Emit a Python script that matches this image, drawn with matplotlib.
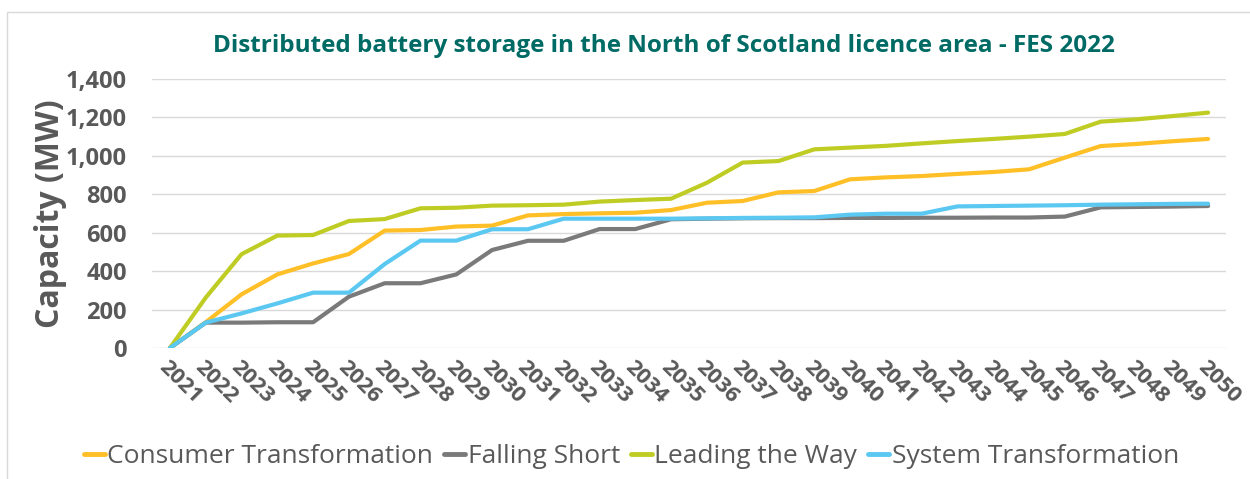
import matplotlib.pyplot as plt
from matplotlib.patches import Rectangle

years = [str(y) for y in range(2021, 2051)]

consumer_transformation = [0, 134, 279, 383, 440, 489, 611, 614, 632, 637,
                           690, 697, 701, 704, 718, 756, 765, 810, 817, 878,
                           888, 895, 906, 916, 930, 991, 1051, 1062, 1076, 1088]
falling_short = [0, 132, 132, 134, 134, 267, 337, 337, 383, 510,
                 558, 558, 619, 619, 670, 673, 675, 676, 676, 677,
                 677, 678, 678, 679, 679, 684, 732, 734, 736, 739]
leading_the_way = [0, 262, 488, 585, 588, 661, 671, 727, 730, 741,
                   743, 746, 762, 770, 777, 860, 965, 973, 1034, 1043,
                   1052, 1065, 1077, 1088, 1100, 1114, 1178, 1190, 1207, 1225]
system_transformation = [0, 132, 180, 232, 288, 288, 437, 559, 559, 618,
                         618, 673, 673, 673, 673, 675, 677, 678, 680, 694,
                         699, 699, 737, 739, 741, 743, 746, 748, 750, 751]

series = [
    ("Consumer Transformation", consumer_transformation, "#FFBF27"),
    ("Falling Short", falling_short, "#7A7A7A"),
    ("Leading the Way", leading_the_way, "#BFCC24"),
    ("System Transformation", system_transformation, "#5BC8F2"),
]

plt.rcParams['font.family'] = ['Open Sans', 'DejaVu Sans']
text_grey = "#595959"

fig = plt.figure(figsize=(12.5, 4.79), dpi=100)
# light chart-area border (only left and top edges fall inside the image)
fig.patches.append(Rectangle((7 / 1250, -0.1), 1.2, (479 - 12) / 479 + 0.1,
                             transform=fig.transFigure, fill=False,
                             edgecolor="#D9D9D9", linewidth=1))

ax = fig.add_axes([152 / 1250, (479 - 348) / 479, 1074 / 1250, 269 / 479])

x = list(range(len(years)))
for name, values, color in series:
    ax.plot(x, values, color=color, linewidth=3, label=name,
            solid_capstyle='round', solid_joinstyle='round')

ax.set_xlim(-0.5, len(years) - 0.5)
ax.set_ylim(0, 1400)
ax.set_yticks(range(0, 1401, 200))
ax.set_yticklabels([f"{v:,}" for v in range(0, 1401, 200)],
                   fontsize=17, fontweight='bold', color=text_grey)
ax.set_xticks(x)
ax.set_xticklabels(years, rotation=-45, ha='left', va='top',
                   rotation_mode='anchor', fontsize=16, fontweight='bold',
                   color=text_grey)
ax.tick_params(length=0)
ax.tick_params(axis='y', pad=18)
ax.tick_params(axis='x', pad=6)
ax.grid(axis='y', color="#D9D9D9", linewidth=1)
ax.set_axisbelow(True)
for s in ax.spines.values():
    s.set_visible(False)

ax.set_ylabel("Capacity (MW)", fontsize=23, fontweight='bold',
              color=text_grey, labelpad=-1)

fig.text(0.531, 0.905, "Distributed battery storage in the North of Scotland licence area - FES 2022",
         ha='center', va='center', fontsize=17.5, fontweight='bold', color="#006B65")

leg = fig.legend(loc='center', bbox_to_anchor=(0.505, 0.046), ncol=4, frameon=False,
                 fontsize=19, handlelength=0.8, handletextpad=0.1, columnspacing=0.4,
                 borderaxespad=0)
for line in leg.get_lines():
    line.set_linewidth(3.5)
for t in leg.get_texts():
    t.set_color(text_grey)

fig.savefig("out.png", dpi=100)
